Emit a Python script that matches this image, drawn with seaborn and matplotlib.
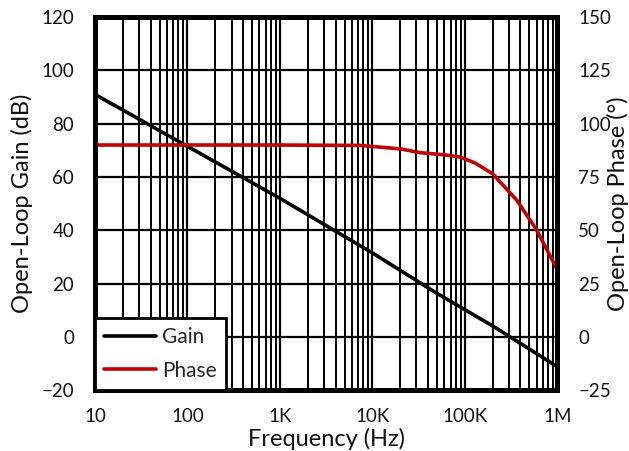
import matplotlib
matplotlib.use("Agg")
import matplotlib.pyplot as plt
import seaborn as sns
import numpy as np
import pandas as pd
from matplotlib.ticker import FixedLocator, LogLocator, NullFormatter

sns.set_theme(style="white")
plt.rcParams['font.family'] = ['Lato', 'DejaVu Sans']

gain_freq = [10, 100, 1000, 10000, 50000, 200000, 1000000]
gain_db = [91, 71.5, 52, 31.5, 16.3, 4.1, -11.2]

phase_freq = [10, 1000, 7400, 20000, 33000, 60000, 90000, 130000, 200000, 366000, 600000, 1000000]
phase_deg = [90, 90, 89.8, 88.2, 86.4, 85.4, 84.3, 81.5, 76.5, 64.0, 50.0, 31.5]

x_ticks = [10, 100, 1000, 10000, 100000, 1000000]
x_labels = ["10", "100", "1K", "10K", "100K", "1M"]

gain_df = pd.DataFrame({"freq": gain_freq, "val": gain_db})
phase_df = pd.DataFrame({"freq": phase_freq, "val": phase_deg})

fig = plt.figure(figsize=(6.29, 4.51), dpi=100)
ax = fig.add_axes([0.151, 0.135, 0.735, 0.827])
ax2 = ax.twinx()

ax.set_xscale("log")
ax.set_xlim(10, 1e6)
ax.set_ylim(-20, 120)
ax2.set_ylim(-25, 150)

ax.xaxis.set_major_locator(FixedLocator(x_ticks))
ax.set_xticklabels(x_labels)
ax.xaxis.set_minor_locator(LogLocator(base=10, subs=np.arange(2, 10), numticks=100))
ax.xaxis.set_minor_formatter(NullFormatter())
ax.set_yticks(np.arange(-20, 121, 20))
ax2.set_yticks(np.arange(-25, 151, 25))

ax.grid(True, which="major", axis="both", color="black", lw=1.6)
ax.grid(True, which="minor", axis="x", color="black", lw=1.4)
ax.set_axisbelow(True)

sns.lineplot(data=gain_df, x="freq", y="val", ax=ax, color="black", lw=2.6, label="Gain", legend=False)
sns.lineplot(data=phase_df, x="freq", y="val", ax=ax2, color="#C00000", lw=2.6, label="Phase", legend=False)

for a in (ax, ax2):
    for s in a.spines.values():
        s.set_color("black")
        s.set_linewidth(3.5)
    a.tick_params(axis="both", which="both", length=0, labelsize=13.5, pad=15, colors="#111111")
ax.tick_params(axis="x", pad=13)

ax.set_xlabel("Frequency (Hz)", fontsize=17, color="#111111")
ax.xaxis.label.set_va("center")
ax.xaxis.set_label_coords(0.5, -0.131)
ax.set_ylabel("Open-Loop Gain (dB)", fontsize=17, color="#111111")
ax.yaxis.label.set_va("center")
ax.yaxis.set_label_coords(-0.158, 0.5)
ax2.set_ylabel("Open-Loop Phase (°)", fontsize=17, rotation=90, color="#111111")
ax2.yaxis.label.set_va("center")
ax2.yaxis.set_label_coords(1.132, 0.5)
ax2.set_xlim(10, 1e6)

h1, l1 = ax.get_legend_handles_labels()
h2, l2 = ax2.get_legend_handles_labels()
leg = ax2.legend(h1 + h2, l1 + l2, loc="lower left", fontsize=15, frameon=True,
                 fancybox=False, borderaxespad=0, handlelength=2.5, handletextpad=0.25,
                 labelspacing=0.65, borderpad=0.45)
leg.get_frame().set_edgecolor("black")
leg.get_frame().set_linewidth(2)
leg.get_frame().set_alpha(1)

fig.savefig("out.png", dpi=100)
